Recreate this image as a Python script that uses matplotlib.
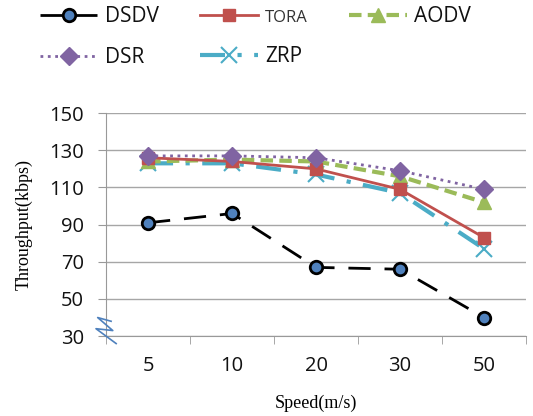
import matplotlib.pyplot as plt

# Throughput vs speed data
speeds = ['5', '10', '20', '30', '50']
dsdv = [91, 96, 67, 66, 40]
tora = [126, 124, 120, 109, 83]
aodv = [124, 125, 124, 116, 102]
dsr = [127, 127, 126, 119, 109]
zrp = [123, 123, 117, 107, 77]

fig = plt.figure(figsize=(5.33, 4.16), dpi=100)
ax = fig.add_axes([0.199, 0.192, 0.788, 0.536])
x = range(len(speeds))

ax.plot(x, zrp, color='#4bacc6', lw=3, dashes=(6, 3, 1, 3), marker='x',
        ms=11, mew=1.5, label='ZRP', zorder=3)
ax.plot(x, aodv, color='#9bbb59', lw=3, dashes=(3, 1.5), marker='^',
        ms=10, label='AODV', zorder=4)
ax.plot(x, dsr, color='#8064a2', lw=2, ls=':', marker='D',
        ms=9, label='DSR', zorder=5)
ax.plot(x, tora, color='#c0504d', lw=2, marker='s',
        ms=8, label='TORA', zorder=4)
ax.plot(x, dsdv, color='black', lw=2, dashes=(8, 5), marker='o', ms=9,
        mfc='#4f81bd', mec='black', mew=2, label='DSDV', zorder=6)

ax.set_xlim(-0.5, len(speeds) - 0.5)
ax.set_ylim(30, 150)
ax.set_yticks(range(30, 151, 20))
ax.set_xticks(list(x))
ax.set_xticklabels(speeds)
ax.set_xticks([i - 0.5 for i in range(len(speeds) + 1)], minor=True)
ax.tick_params(axis='x', which='major', length=0, pad=14)
ax.tick_params(axis='x', which='minor', length=6, color='#999999', direction='out')
ax.tick_params(axis='y', length=6, color='#999999', pad=10)
for lab in ax.get_xticklabels() + ax.get_yticklabels():
    lab.set_fontfamily('Open Sans')
    lab.set_fontsize(14.5)
    lab.set_color('#111111')

ax.grid(axis='y', color='#a6a6a6', lw=1)
ax.set_axisbelow(True)
for s in ['top', 'right']:
    ax.spines[s].set_visible(False)
for s in ['left', 'bottom']:
    ax.spines[s].set_color('#999999')

ax.set_xlabel('Speed(m/s)', family='Liberation Serif', fontsize=13, labelpad=14)
ax.set_ylabel('Throughput(kbps)', family='Liberation Serif', fontsize=13, labelpad=12)

# axis break squiggle
ax.plot([-0.38, -0.62, -0.42, -0.60, -0.44], [26, 34, 33, 40, 38],
        color='#4f81bd', lw=1.2, clip_on=False, zorder=7)

# Legend on top, two rows
handles, labels = ax.get_legend_handles_labels()
order = ['DSDV', 'DSR', 'TORA', 'ZRP', 'AODV']
hmap = dict(zip(labels, handles))
leg = fig.legend([hmap[k] for k in order], order, ncol=3, loc='upper left',
                 bbox_to_anchor=(0.075, 0.985), frameon=False, borderpad=0,
                 borderaxespad=0, handlelength=2.75, handletextpad=0.35,
                 columnspacing=2.0, labelspacing=0.95,
                 prop={'family': 'Open Sans', 'size': 15})
for t in leg.get_texts():
    t.set_color('#111111')
    if t.get_text() == 'TORA':
        t.set_fontsize(12)
        t.set_color('#333333')

fig.savefig('out.png', dpi=100)
